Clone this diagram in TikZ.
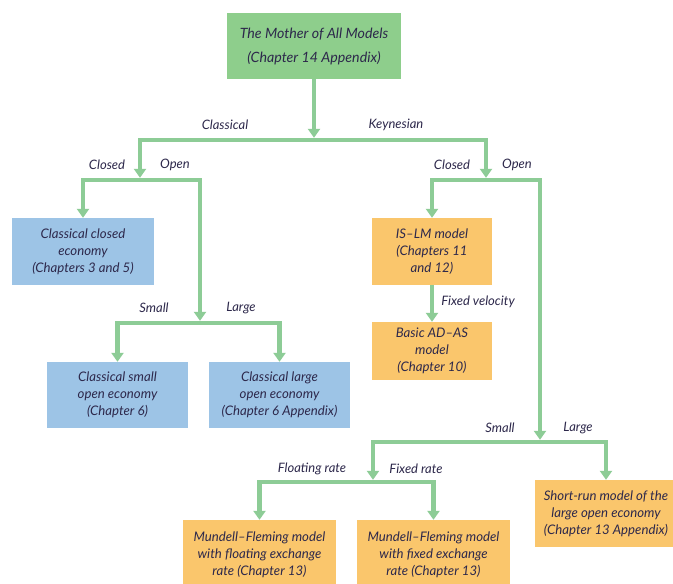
\documentclass[tikz,border=0pt]{standalone}
\usepackage{fontspec}
\setmainfont{Lato}
\usetikzlibrary{arrows.meta}
\definecolor{lgreen}{RGB}{141,204,150}
\definecolor{bgreen}{RGB}{142,206,140}
\definecolor{bblue}{RGB}{157,196,230}
\definecolor{borange}{RGB}{250,198,108}
\definecolor{txt}{RGB}{45,40,75}
\begin{document}
\begin{tikzpicture}[x=1pt,y=-1pt,
  box/.style={inner sep=0pt, align=center, text=txt,
    font=\itshape\fontsize{13.2}{17}\selectfont},
  gbox/.style={box, fill=bgreen},
  bbox/.style={box, fill=bblue},
  obox/.style={box, fill=borange},
  flow/.style={draw=lgreen, line width=4.5pt, line join=miter},
  arr/.style={flow, -{Triangle[width=12pt,length=9pt]}},
  tobar/.style={arr, shorten >=2.2pt},
  lbl/.style={text=txt, font=\itshape\fontsize{13}{15}\selectfont, inner sep=1pt}]
\useasboundingbox (0,0) rectangle (673,584);
\clip (0,0) rectangle (673,584);
\fill[white] (0,0) rectangle (673,584);

% boxes
\node[gbox, minimum width=174pt, minimum height=66pt, font=\itshape\fontsize{14.2}{24}\selectfont] (top) at (314,46)
  {The Mother of All Models\\(Chapter 14 Appendix)};
\node[bbox, minimum width=142pt, minimum height=67pt] (cc) at (83,251.5)
  {Classical closed\\economy\\(Chapters 3 and 5)};
\node[bbox, minimum width=141pt, minimum height=66pt] (cs) at (117.5,395)
  {Classical small\\open economy\\(Chapter 6)};
\node[bbox, minimum width=141pt, minimum height=66pt] (cl) at (279.5,395)
  {Classical large\\open economy\\(Chapter 6 Appendix)};
\node[obox, minimum width=120pt, minimum height=67pt] (islm) at (432,251.5)
  {IS--LM model\\(Chapters 11\\and 12)};
\node[obox, minimum width=120pt, minimum height=58pt] (adas) at (432,351)
  {Basic AD--AS\\model\\(Chapter 10)};
\node[obox, minimum width=142pt, minimum height=67pt] (sr) at (606,513.5)
  {Short-run model of the\\large open economy\\(Chapter 13 Appendix)};
\node[obox, minimum width=153pt, minimum height=70pt] (mff) at (259.5,555)
  {Mundell--Fleming model\\with floating exchange\\rate (Chapter 13)};
\node[obox, minimum width=153pt, minimum height=70pt] (mfx) at (433.5,555)
  {Mundell--Fleming model\\with fixed exchange\\rate (Chapter 13)};

% junctions
\coordinate (j1) at (314,140);
\coordinate (j2) at (140,180);
\coordinate (j3) at (486,180);
\coordinate (j4) at (200,323);
\coordinate (j5) at (540,442);
\coordinate (j6) at (373,482);

% connectors
\draw[tobar] (top) -- (j1);
\draw[tobar] (j1) -| (j2);
\draw[tobar] (j1) -| (j3);
\draw[arr] (j2) -| (cc.north);
\draw[tobar] (j2) -| (j4);
\draw[arr] (j4) -| (cs.north);
\draw[arr] (j4) -| (cl.north);
\draw[arr] (j3) -| (islm.north);
\draw[arr] (islm) -- (adas);
\draw[tobar] (j3) -| (j5);
\draw[arr] (j5) -| (sr.north);
\draw[tobar] (j5) -| (j6);
\draw[arr] (j6) -| (mff.north);
\draw[arr] (j6) -| (mfx.north);

% labels
\node[lbl] (lclass) at (225,125) {Classical};
\node[lbl] (lkeyn) at (396,125) {Keynesian};
\node[lbl] (lc1) at (107,165) {Closed};
\node[lbl] (lo1) at (175,165) {Open};
\node[lbl] (lc2) at (452,165) {Closed};
\node[lbl] (lo2) at (517,165) {Open};
\node[lbl] (ls1) at (154,308) {Small};
\node[lbl] (ll1) at (241,308) {Large};
\node[lbl] (lfv) at (478,302) {Fixed velocity};
\node[lbl] (ls2) at (500,428) {Small};
\node[lbl] (ll2) at (578,428) {Large};
\node[lbl] (lfl) at (312,469) {Floating rate};
\node[lbl] (lfx) at (416,469) {Fixed rate};
\end{tikzpicture}
\end{document}
